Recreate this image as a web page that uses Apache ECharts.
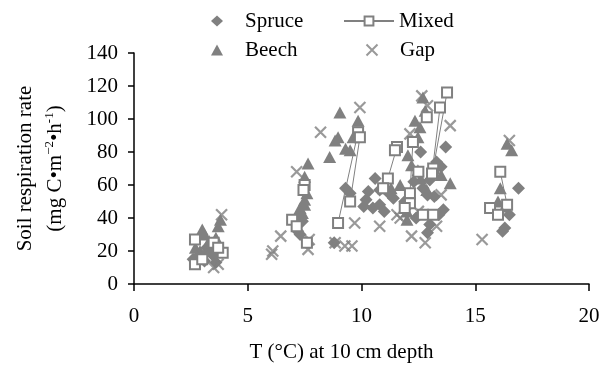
<!DOCTYPE html>
<html>
<head>
<meta charset="utf-8">
<script src="https://cdn.jsdelivr.net/npm/echarts@6/dist/echarts.min.js"></script>
<style>
  html, body { margin: 0; padding: 0; background: #fff; }
  #chart { width: 610px; height: 365px; }
</style>
</head>
<body>
<div id="chart"></div>
<script>
// soil temperature (°C) and respiration rate per stand type
const spruceT = [2.6, 2.9, 3.1, 3.3, 3.5, 3.2, 3.6, 7.2, 7.4, 7.3, 9.3, 9.5, 8.8,
  10.6, 10.3, 10.2, 10.8, 11.2, 10.8, 10.5, 10.1, 11.0, 12.6, 13.7, 13.3, 13.5, 12.9, 13.2,
  12.9, 13.0, 13.6, 11.9, 12.3, 12.7, 13.0, 12.4, 11.4, 13.4, 12.1, 16.9, 16.5, 16.3, 16.2];
const spruceR = [15, 18, 14, 20, 17, 22, 13, 32, 38, 30, 58, 55, 25,
  64, 56, 51, 57, 55, 48, 46, 47, 44, 80, 83, 74, 71, 54, 53,
  31, 36, 45, 50, 62, 58, 63, 40, 52, 42, 48, 58, 42, 34, 32];

const beechT = [3.0, 3.1, 3.8, 2.7, 3.3, 3.6, 2.9, 3.7, 7.65, 7.5, 7.3, 7.4, 7.5, 7.6, 7.2, 7.5,
  9.05, 9.85, 8.84, 8.97, 9.63, 8.6, 9.5, 9.3, 12.7, 12.8, 12.35, 12.57, 12.48, 12.04, 12.48,
  13.9, 11.7, 12.87, 12.0, 12.0, 13.5, 12.2, 12.6, 11.3, 16.4, 16.6, 16.1, 16.0, 16.3];
const beechR = [33, 30, 39, 22, 26, 28, 20, 35, 73, 51, 46, 43, 48, 55, 41, 65,
  104, 99, 87, 89, 89, 77, 81, 82, 113, 105, 99, 95, 89, 78, 69,
  61, 60, 57, 44, 39, 66, 72, 64, 58, 85, 81, 58, 50, 47];

// null splits the mixed-stand series into separately connected runs
const mixedT = [2.68, null, 2.68, null, 3.5, null, 3.9, null, 3.7, null, 3.0, null,
  7.5, null, 7.45, null, 6.95, null, 7.15, null, 7.6, null,
  8.97, 9.85, null, 9.5, 9.93, null,
  13.76, 13.15, null, 13.45, 13.1, null, 12.87, null, 12.13, 12.26, null, 11.56, 11.16, null,
  11.47, null, 10.95, null, 12.13, null, 11.9, null, 13.15, null, 12.7, null, 12.5, null,
  16.1, 16.4, null, 15.65, null, 16.0];
const mixedR = [27, null, 12, null, 25, null, 19, null, 22, null, 15, null,
  60, null, 57, null, 39, null, 35, null, 25, null,
  37, 92, null, 50, 89, null,
  116, 70, null, 107, 67, null, 101, null, 55, 86, null, 83, 64, null,
  81, null, 58, null, 49, null, 46, null, 42, null, 42, null, 68, null,
  68, 48, null, 46, null, 42];

const gapT = [3.85, 3.5, 3.7, 3.0, 7.15, 6.45, 6.05, 6.1, 7.7, 7.65, 8.2, 9.93, 9.7,
  8.84, 9.27, 9.58, 12.65, 12.9, 13.9, 12.13, 13.3, 13.5, 10.8, 12.2, 12.8, 11.56, 12.5, 11.7,
  16.5, 15.3];
const gapR = [42, 10, 12, 18, 68, 29, 18, 20, 27, 21, 92, 107, 37,
  25, 23, 23, 114, 108, 96, 91, 35, 54, 35, 29, 25, 42, 44, 40,
  87, 27];

const xTicks = [0, 20, 5];
const yTicks = [0, 140, 20];

const grey = '#808080';
const font = 'Liberation Serif';
const fs = 21;

const pairs = (xs, ys) => xs.map((x, i) => (x === null ? ['-', '-'] : [x, ys[i]]));
const crossPath = 'path://M0,0L10,10M10,0L0,10';
const legendText = (padLeft) => ({
  fontFamily: font, fontSize: fs, color: '#000', lineHeight: 22, padding: [0, 0, 0, padLeft]
});

const chart = echarts.init(document.getElementById('chart'));
chart.setOption({
  animation: false,
  textStyle: { fontFamily: font, color: '#000' },
  grid: { left: 134, right: 21, top: 53, bottom: 81, outerBoundsMode: 'none' },
  legend: [
    {
      orient: 'vertical', left: 206, top: 5, itemWidth: 12, itemHeight: 11, itemGap: 7,
      textStyle: legendText(17),
      data: ['Spruce', 'Beech']
    },
    {
      orient: 'vertical', left: 338, top: 5, itemWidth: 50, itemHeight: 11,
      textStyle: legendText(0),
      data: ['Mixed']
    },
    {
      orient: 'vertical', left: 359, top: 34, itemWidth: 12, itemHeight: 11,
      textStyle: legendText(17),
      data: ['Gap']
    }
  ],
  xAxis: {
    type: 'value', min: xTicks[0], max: xTicks[1], interval: xTicks[2],
    name: 'T (°C) at 10 cm depth', nameLocation: 'middle', nameGap: 58,
    nameTextStyle: { fontFamily: font, fontSize: fs, color: '#000', padding: [0, 40, 0, 0] },
    axisLine: { lineStyle: { color: '#000', width: 1.5 } },
    axisTick: { inside: false, length: 7, lineStyle: { color: '#000', width: 1.5 } },
    axisLabel: { fontFamily: font, fontSize: fs, color: '#000', margin: 22 },
    splitLine: { show: false }
  },
  yAxis: {
    type: 'value', min: yTicks[0], max: yTicks[1], interval: yTicks[2],
    name: '{n|Soil respiration rate}\n{n|(mg C•m}{s|−2}{n|•h}{s|-1}{n|)}',
    nameLocation: 'middle', nameGap: 64,
    nameTextStyle: {
      fontFamily: font, fontSize: fs, color: '#000', lineHeight: 30,
      rich: {
        n: { fontFamily: font, fontSize: fs, color: '#000', lineHeight: 30 },
        s: { fontFamily: font, fontSize: 13, color: '#000', lineHeight: 30, padding: [0, 0, 10, 0] }
      }
    },
    axisLine: { show: true, lineStyle: { color: '#000', width: 1.5 } },
    axisTick: { show: true, inside: false, length: 6, lineStyle: { color: '#000', width: 1.5 } },
    axisLabel: { fontFamily: font, fontSize: fs, color: '#000', margin: 16 },
    splitLine: { show: false }
  },
  series: [
    {
      name: 'Spruce', type: 'scatter', symbol: 'diamond', symbolSize: 13,
      itemStyle: { color: grey, opacity: 1 },
      data: pairs(spruceT, spruceR)
    },
    {
      name: 'Beech', type: 'scatter', symbol: 'triangle', symbolSize: [13, 12],
      itemStyle: { color: grey, opacity: 1 },
      data: pairs(beechT, beechR)
    },
    {
      name: 'Mixed', type: 'line', symbol: 'rect', symbolSize: 10, showSymbol: true,
      connectNulls: false,
      lineStyle: { color: grey, width: 1 },
      itemStyle: { color: '#fff', borderColor: grey, borderWidth: 2 },
      data: pairs(mixedT, mixedR)
    },
    {
      name: 'Gap', type: 'scatter', symbol: crossPath, symbolSize: 11,
      itemStyle: { color: 'none', borderColor: grey, borderWidth: 2.2 },
      data: pairs(gapT, gapR)
    }
  ]
});
</script>
</body>
</html>
